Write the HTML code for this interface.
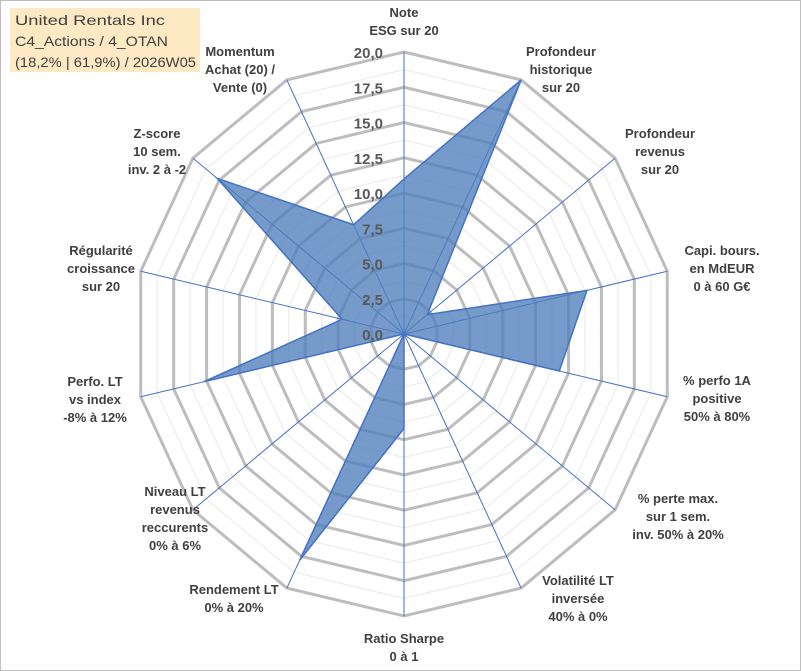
<!DOCTYPE html>
<html><head><meta charset="utf-8"><style>
html,body{margin:0;padding:0;background:#fff;}
svg{display:block;font-family:"Liberation Sans",sans-serif;}
</style></head><body>
<svg id="chart" width="801" height="671" viewBox="0 0 801 671">
<rect x="0.5" y="0.5" width="800" height="670" fill="#fff" stroke="#bfbfbf"/>
<g id="grid"></g><g id="spokes"></g><g id="series"></g><g id="ticks"></g><g id="labels"></g>
<g>
<rect x="10" y="8" width="190" height="64" fill="#fde9c3"/>
<text x="15" y="25" font-size="14" fill="#404040" textLength="150" lengthAdjust="spacingAndGlyphs">United Rentals Inc</text>
<text x="15" y="46" font-size="14" fill="#404040" textLength="153" lengthAdjust="spacingAndGlyphs">C4_Actions / 4_OTAN</text>
<text x="15" y="67" font-size="14" fill="#404040" textLength="181" lengthAdjust="spacingAndGlyphs">(18,2% | 61,9%) / 2026W05</text>
</g>
</svg>
<script>
const categories=[["Note","ESG sur 20"],["Profondeur","historique","sur 20"],["Profondeur","revenus","sur 20"],["Capi. bours.","en MdEUR","0 à 60 G€"],["% perfo 1A","positive","50% à 80%"],["% perte max.","sur 1 sem.","inv. 50% à 20%"],["Volatilité LT","inversée","40% à 0%"],["Ratio Sharpe","0 à 1"],["Rendement LT","0% à 20%"],["Niveau LT","revenus","reccurents","0% à 6%"],["Perfo. LT","vs index","-8% à 12%"],["Régularité","croissance","sur 20"],["Z-score","10 sem.","inv. 2 à -2"],["Momentum","Achat (20) /","Vente (0)"]];
const values=[11,20,2.2,13.9,11.8,0,0,6.7,17.8,0,15.2,4.7,17.7,8.6];
const tickLabels=["0,0","2,5","5,0","7,5","10,0","12,5","15,0","17,5","20,0"];
const labelPos=[[404,12],[561,51],[660,133],[722,250],[717,380],[678,498],[578,580],[404,638],[234,589],[175,491],[95,381],[101,250],[157,133],[240,51]];
const CX=404,CY=334,RX=270,RY=282,MAX=20;
const NS="http://www.w3.org/2000/svg";
function pt(i,v){const a=i*2*Math.PI/categories.length;return [CX+Math.sin(a)*RX*v/MAX,CY-Math.cos(a)*RY*v/MAX];}
function mk(tag,attrs,parent){const e=document.createElementNS(NS,tag);for(const k in attrs)e.setAttribute(k,attrs[k]);parent.appendChild(e);return e;}
const n=categories.length;
const grid=document.getElementById('grid');
for(let k=1;k<=16;k++){const v=k*1.25;const pts=[];for(let i=0;i<n;i++)pts.push(pt(i,v).join(','));
 const major=k%2===0;
 const p=mk('polygon',{points:pts.join(' '),fill:'none',stroke:major?'#bdbdbd':'#ececec','stroke-width':major?3:1.2},grid);
 
 }
const sp=document.getElementById('spokes');
for(let i=0;i<n;i++){const [x,y]=pt(i,MAX);const l=mk('line',{x1:CX,y1:CY,x2:x,y2:y,stroke:'#4472c4','stroke-width':1},sp);
 
 }
const ser=document.getElementById('series');
const poly=mk('polygon',{points:values.map((v,i)=>pt(i,v).join(',')).join(' '),fill:'#4f7fbb','fill-opacity':0.78,stroke:'#4472c4','stroke-width':1.5},ser);


const tk=document.getElementById('ticks');
tickLabels.forEach((t,k)=>{const y=CY-RY*(k*2.5)/MAX;const e=mk('text',{x:383,y:y+6,'text-anchor':'end','font-size':15,'font-weight':'bold',fill:'#595959'},tk);e.textContent=t;
 
 });
const lb=document.getElementById('labels');
categories.forEach((lines,i)=>{const [x,y]=labelPos[i];const t=mk('text',{x:x,'text-anchor':'middle','font-size':13,'font-weight':'bold',fill:'#404040'},lb);
 
 
 lines.forEach((s,j)=>{const ts=mk('tspan',{x:x,y:y+5+j*18},t);ts.textContent=s;});});
</script>
</body></html>
